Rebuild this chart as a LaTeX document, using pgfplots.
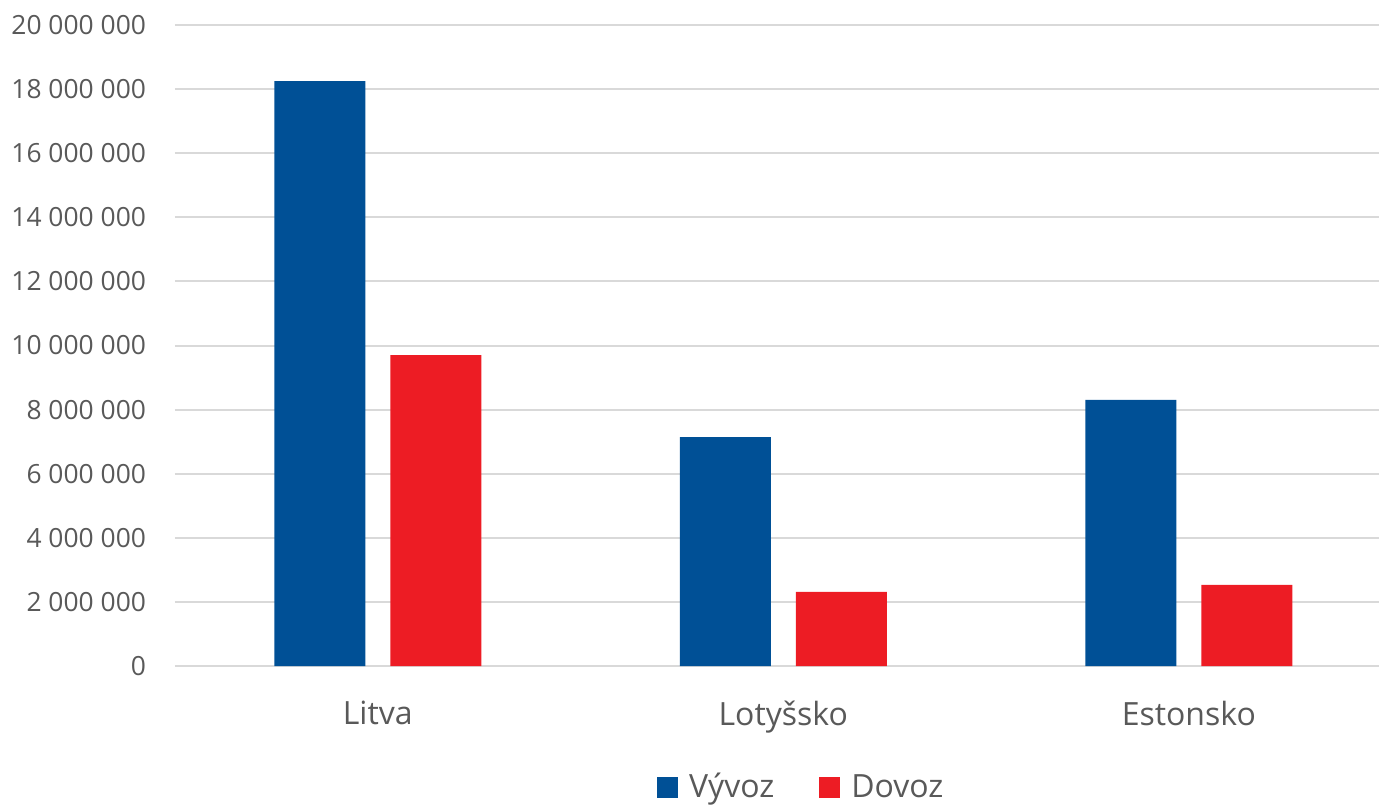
\documentclass[border=0pt]{standalone}
\usepackage{pgfplots}
\pgfplotsset{compat=1.18}
\usepackage{fontspec}
\setmainfont{Open Sans}
\definecolor{cblue}{HTML}{005096}
\definecolor{cred}{HTML}{ED1C24}
\definecolor{ctext}{HTML}{595959}
\definecolor{cgrid}{HTML}{D9D9D9}
\begin{document}
\begin{tikzpicture}
\begin{axis}[
  at={(0pt,0pt)}, anchor=south west,
  scale only axis, width=602pt, height=320.5pt,
  ybar=12.5pt, bar width=45.5pt,
  xmin=-0.5, xmax=2.469,
  ymin=0, ymax=20000000,
  ytick={0,2000000,...,20000000},
  xtick={0,1,2},
  xticklabels={Litva,Lotyšsko,Estonsko},
  scaled y ticks=false,
  /pgf/number format/.cd, fixed, 1000 sep={\ }, assume math mode=true,
  /pgfplots/.cd,
  axis line style={draw=none},
  major tick length=0pt,
  ymajorgrids, grid style={cgrid, line width=1pt},
  tick label style={text=ctext},
  yticklabel style={font=\fontsize{13.2pt}{16pt}\selectfont, xshift=-11pt},
  xticklabel style={font=\fontsize{16pt}{19pt}\selectfont, yshift=-14pt},
  legend style={at={(0.521,-0.189)}, anchor=center, draw=none, legend columns=2,
    font=\fontsize{16pt}{19pt}\selectfont, text=ctext,
    /tikz/every even column/.append style={column sep=20.5pt}},
  legend image code/.code={\fill[#1] (0pt,-5.25pt) rectangle (10.5pt,5.25pt); \path (14pt,0pt);},
]
\addplot[fill=cblue, draw=none] coordinates {(0,18250000) (1,7140000) (2,8300000)};
\addplot[fill=cred, draw=none] coordinates {(0,9700000) (1,2310000) (2,2530000)};
\legend{Vývoz,Dovoz}
\end{axis}
\pgfresetboundingbox
\useasboundingbox (-87.5pt,-69.5pt) rectangle (602pt,333pt);
\end{tikzpicture}
\end{document}
